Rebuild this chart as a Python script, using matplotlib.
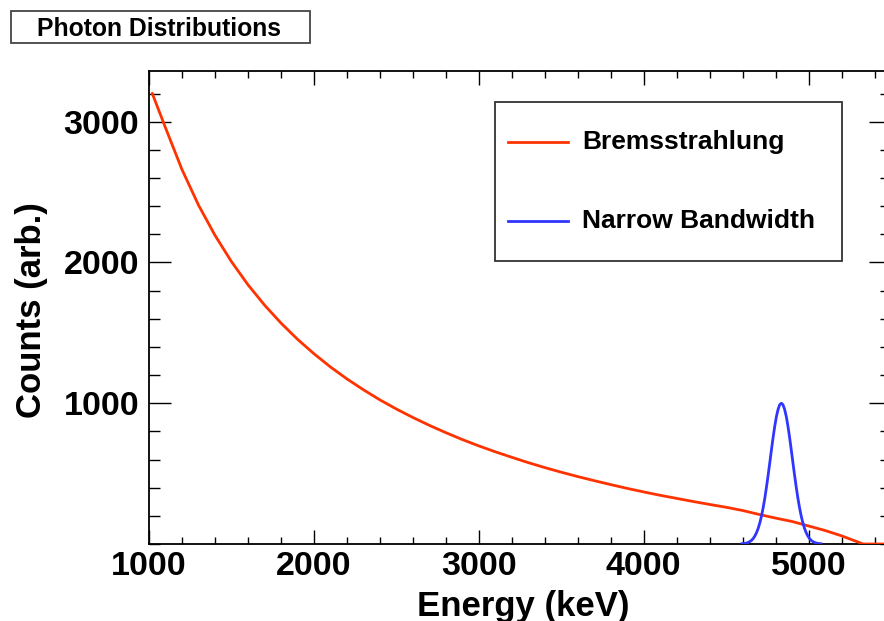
import matplotlib
matplotlib.use("Agg")
import matplotlib.pyplot as plt
from matplotlib.lines import Line2D
from matplotlib.patches import Rectangle
from matplotlib.ticker import MultipleLocator

plt.rcParams["font.family"] = ["Liberation Sans", "DejaVu Sans"]
plt.rcParams["font.weight"] = "bold"

# Bremsstrahlung spectrum
brems_energy = [1020, 1100, 1200, 1300, 1400, 1500, 1600, 1700, 1800, 1900,
                2000, 2100, 2200, 2300, 2400, 2500, 2600, 2700, 2800, 2900,
                3000, 3100, 3200, 3300, 3400, 3500, 3600, 3700, 3800, 3900,
                4000, 4100, 4200, 4300, 4400, 4500, 4600, 4700, 4800, 4900,
                5000, 5100, 5200, 5300, 5330, 5500]
brems_counts = [3200, 2957, 2660, 2408, 2193, 2006, 1842, 1698, 1570, 1455,
                1352, 1258, 1173, 1096, 1024, 959, 899, 843, 791, 742,
                697, 655, 616, 578, 543, 510, 479, 450, 422, 395,
                370, 346, 324, 302, 281, 261, 238, 210, 184, 160,
                128, 96, 58, 14, 0, 0]

# Narrow bandwidth peak
nbw_energy = [4595, 4605, 4615, 4625, 4635, 4645, 4655, 4665, 4675, 4685,
              4695, 4705, 4715, 4725, 4735, 4745, 4755, 4765, 4775, 4785,
              4795, 4805, 4815, 4825, 4835, 4845, 4855, 4865, 4875, 4885,
              4895, 4905, 4915, 4925, 4935, 4945, 4955, 4965, 4975, 4985,
              4995, 5005, 5015, 5025, 5035, 5045, 5055, 5065, 5075]
nbw_counts = [2, 3, 5, 7, 12, 18, 27, 40, 58, 82,
              113, 152, 201, 260, 328, 406, 490, 579, 670, 757,
              837, 905, 956, 989, 1000, 989, 956, 905, 837, 757,
              670, 579, 490, 406, 328, 260, 201, 152, 113, 82,
              58, 40, 27, 18, 12, 7, 5, 3, 2]

labels = ["Bremsstrahlung", "Narrow Bandwidth"]
colors = ["#ff3300", "#3036ff"]

W, H = 884, 621
fig = plt.figure(figsize=(W / 100, H / 100), dpi=100)

# axes frame in pixels: left 149, right 891 (beyond the canvas), top 71, bottom 544
ax = fig.add_axes([149 / W, (H - 544) / H, (891 - 149) / W, (544 - 71) / H])

ax.plot(brems_energy, brems_counts, color=colors[0], lw=2.0, zorder=3)
ax.plot(nbw_energy, nbw_counts, color=colors[1], lw=2.0, zorder=3)

ax.set_xlim(1000, 5500)
ax.set_ylim(0, 3360)
ax.xaxis.set_major_locator(MultipleLocator(1000))
ax.xaxis.set_minor_locator(MultipleLocator(200))
ax.yaxis.set_minor_locator(MultipleLocator(200))
ax.set_yticks([1000, 2000, 3000])

for sp in ax.spines.values():
    sp.set_linewidth(1.3)

ax.tick_params(axis="both", which="both", direction="in",
               top=True, right=True, width=1.0, labelsize=24.5)
ax.tick_params(axis="x", which="major", length=10, pad=5)
ax.tick_params(axis="x", which="minor", length=5)
ax.tick_params(axis="y", which="major", length=16, pad=7)
ax.tick_params(axis="y", which="minor", length=8)
for lab in ax.get_xticklabels() + ax.get_yticklabels():
    lab.set_fontweight("bold")

ax.set_xlabel("Energy (keV)", fontsize=25, fontweight="bold")
ax.set_ylabel("Counts (arb.)", fontsize=25, fontweight="bold")
ax.xaxis.set_label_coords(0.505, -0.098)
ax.yaxis.set_label_coords(-0.136, 0.495)


def px(x, y):
    # pixel position (from top-left) -> figure fraction
    return x / W, (H - y) / H


# legend box
lx0, ly0 = px(495, 261)
lx1, ly1 = px(842, 102)
fig.patches.append(Rectangle((lx0, ly0), lx1 - lx0, ly1 - ly0,
                             transform=fig.transFigure, facecolor="white",
                             edgecolor="#333333", lw=1.3, zorder=5))
for i, (lab, col) in enumerate(zip(labels, colors)):
    yy = [142, 221][i]
    a, b = px(508, yy)
    c, _ = px(568, yy)
    fig.add_artist(Line2D([a, c], [b, b], color=col, lw=2.0,
                          transform=fig.transFigure, zorder=6))
    tx, ty = px(582, yy)
    fig.text(tx, ty, lab, fontsize=19, fontweight="bold",
             ha="left", va="center", zorder=6)

# title box
tx0, ty0 = px(11, 43)
tx1, ty1 = px(310, 11)
fig.patches.append(Rectangle((tx0, ty0), tx1 - tx0, ty1 - ty0,
                             transform=fig.transFigure, facecolor="white",
                             edgecolor="#444444", lw=1.3, zorder=5))
cx, cy = px(159, 29)
fig.text(cx, cy, "Photon Distributions", fontsize=17.8, fontweight="bold",
         ha="center", va="center", zorder=6)

fig.savefig("out.png", dpi=100)
